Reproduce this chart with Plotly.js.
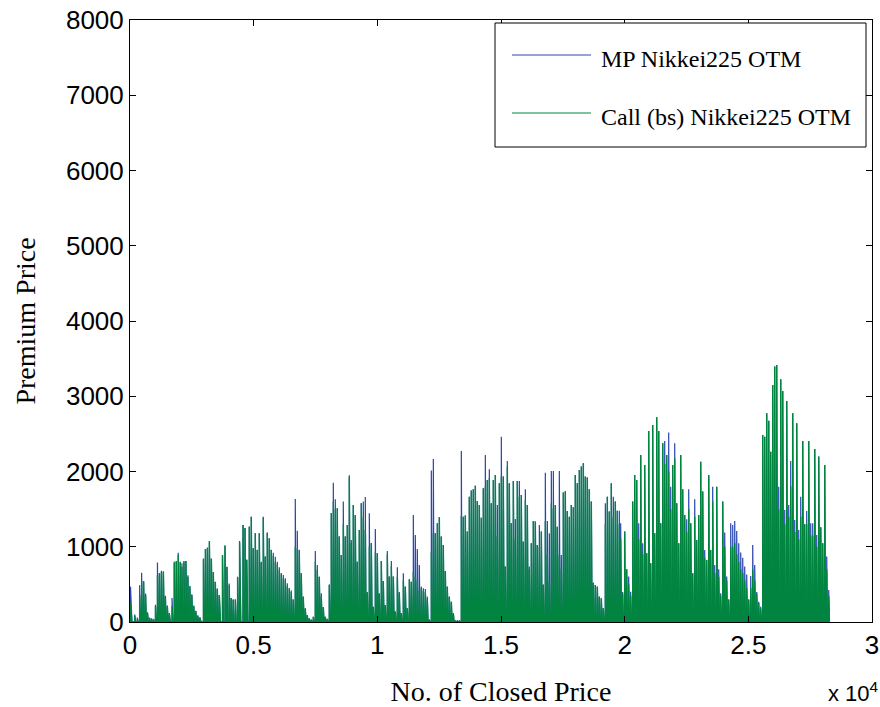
<!DOCTYPE html>
<html>
<head>
<meta charset="utf-8">
<script src="https://cdn.plot.ly/plotly-3.0.1.min.js"></script>
<style>html,body{margin:0;padding:0;background:#fff}#chart{width:880px;height:707px}</style>
</head>
<body>
<div id="chart"></div>
<script>
// Spike positions (observation index) and peak premiums of each option chain
const spikeX = [
20,190,296,390,470,550,630,710,790,870,950,1030,1110,1190,1270,1350,1430,1510,1590,1700,
1790,1870,1950,2030,2100,2180,2260,2340,2420,2500,2580,2660,2740,2820,2970,3050,3130,3210,3290,3370,
3450,3530,3610,3740,3840,3920,4010,4090,4170,4260,4350,4430,4570,4650,4720,
4823,4904,4985,5066,5147,5228,5308,5389,5470,5551,5632,5713,5794,5875,5955,6036,6117,6198,6279,6360,
6441,6521,6602,6683,6764,6845,6926,7007,7088,7168,7249,7330,7411,7492,7573,7654,7734,7815,7896,7977,
8058,8139,8220,8301,8381,8462,8543,8624,8705,8786,8867,8948,9028,9109,9190,9271,9352,9433,9514,9595,
9676,9757,
9838,9919,10000,10080,10161,10242,10323,10404,10485,10566,10647,10727,10808,10889,10970,11051,11132,11213,11294,11374,
11455,11536,11617,11698,11779,11860,11941,12021,12102,12183,12264,12345,12426,12507,12588,12668,12749,12830,12911,12992,
13073,13154,13235,13315,13396,13477,13558,13639,13720,13800,13881,13962,14043,14124,14205,14286,14367,14447,14528,14609,
14690,14771,14852,14933,15013,15094,15175,15256,15337,15418,15499,15579,15660,15741,15822,15903,15984,16065,16145,16226,
16307,16388,16469,16550,16631,16711,16792,16873,16954,17035,17116,17197,17277,17358,17439,17520,17601,17682,17763,17843,
17924,18005,18086,18167,18248,18329,18409,18490,18571,18652,18733,18814,18895,18975,19056,19137,19218,19299,19380,19460,
19541,19622,19703,19784,
19838,19919,20000,20081,20162,20243,20324,20405,20486,20567,20648,20729,20810,20890,20971,21052,21133,21214,21295,21376,
21457,21538,21618,21699,21780,21861,21942,22023,22104,22185,22265,22346,22427,22508,22589,22670,22751,22832,22912,22993,
23074,23155,23236,23317,23398,23478,23559,23640,23721,23802,23883,23964,24045,24125,24206,24287,24368,24449,24530,24611,
24692,24773,24853,24934,25015,25096,25177,25258,25339,25419,25500,25581,25662,25743,25824,25905,25986,26066,26147,26228,
26309,26390,26471,26552,26633,26713,26794,26875,26956,27037,27118,27199,27279,27360,27441,27522,27603,27684,27765,27846,
27927,28007,28088,28169,28250
];

const mpPeak = [
470,100,60,490,655,540,380,130,60,50,40,230,790,650,680,670,350,220,120,320,
780,800,920,790,780,800,810,620,480,370,220,150,90,60,830,970,990,1060,840,660,
530,440,360,880,1010,730,510,320,300,300,600,1075,1290,1250,830,
1270,1400,980,1180,960,1180,800,1400,870,1190,1110,960,921,868,800,726,650,624,580,514,
447,420,300,1634,1214,960,650,340,181,93,48,30,70,943,757,602,381,200,70,40,
500,1450,1850,1630,1510,1140,890,1600,1140,1290,1950,1090,1555,1422,800,1222,1577,1600,1660,400,
1445,1050,
204,1236,913,380,811,545,226,944,603,811,603,140,727,400,120,647,470,182,567,536,
1422,1157,971,758,470,450,440,337,30,2012,2167,1179,1312,1392,1135,1024,678,470,337,270,
115,20,20,20,2273,1400,1414,1201,1666,1746,1764,1812,1609,1555,1387,1777,2220,1888,2029,1577,
1888,1954,1555,1843,2463,1932,736,2140,1843,1312,1874,1369,1874,1874,1688,1068,1764,1555,736,1046,
1343,1334,1024,1290,1201,500,1985,1343,1179,2007,2007,1555,1267,2007,891,1720,1742,1476,1400,1555,
1524,1954,1843,2020,2065,2109,1932,1919,1764,1600,523,492,470,337,315,182,1577,1666,1467,1843,
1666,1600,1480,1480,
1312,400,1201,700,603,403,1600,1954,1888,1312,2220,1046,2087,913,2539,780,2618,1180,2720,2539,
1312,2375,2406,2220,2517,1799,2087,2375,1577,1046,2220,1763,1422,1365,1763,1312,647,1631,1090,1422,
2131,1733,957,824,1954,957,1799,758,1799,700,381,1600,1188,603,300,1312,1290,1343,1210,1046,
922,855,736,630,300,612,1024,758,400,270,204,2486,2463,2773,2676,2264,3150,3394,3416,1799,
3225,3070,1489,2937,1555,2140,2773,1356,2641,1223,1666,2406,1300,1476,2406,1312,1312,2300,1157,2198,
1258,1046,2087,869,425
];

const bsPeak = [
250,80,40,360,540,540,360,110,50,40,30,210,620,640,665,670,340,210,110,210,
800,810,890,800,735,810,810,600,470,360,210,145,80,60,845,970,980,1075,845,665,
535,445,360,890,1020,735,490,320,300,300,590,1060,1290,1250,824,
1267,1400,979,1178,957,1178,790,1390,870,1187,1112,957,880,800,770,690,640,580,560,480,
447,400,300,1000,980,957,646,336,181,93,48,30,70,802,690,600,340,200,70,40,
492,1444,1600,1500,1510,1134,890,1300,1134,1289,1930,1050,1555,1422,800,1222,1577,1400,1223,380,
1000,1046,
200,922,913,380,811,545,226,900,603,736,603,140,600,381,115,550,470,182,567,536,
670,600,560,420,450,420,400,300,30,935,1179,1179,1312,1392,1135,1024,678,470,337,270,
115,20,20,20,1409,1400,1414,1201,1666,1746,1764,1812,1609,1555,1387,1777,1800,1888,1910,1577,
1888,1954,1135,1843,1932,1932,736,2065,1843,1312,1874,1100,1874,1666,1688,1068,1620,1555,700,1046,
1343,1334,1024,1000,1201,492,1343,900,536,1577,1511,1555,1267,891,700,1720,1733,1476,1400,1555,
1524,1954,1843,2020,2065,2109,1932,1919,1764,1600,523,492,470,337,315,182,1300,1666,1467,1843,
1400,1600,1480,1300,
1100,380,1201,700,500,350,1600,1954,1888,1100,2220,900,2087,913,2539,780,2618,1180,2720,2539,
1312,2375,2100,2220,2000,1500,2087,2175,1577,1046,2220,1763,1422,1200,1500,1312,647,1400,1090,1422,
2131,1733,850,824,1954,957,1600,650,1799,600,350,1600,1000,550,300,1000,1000,1050,900,800,
700,650,550,450,300,450,700,550,380,250,180,2486,2463,2773,2676,2264,3150,3394,3416,1500,
3225,3070,1300,2937,1400,1800,2773,1200,2641,1100,1400,2406,1300,1300,2406,1150,1150,2300,1000,2198,
1258,1046,2087,700,350
];

const seriesNames = ['MP Nikkei225 OTM', 'Call (bs) Nikkei225 OTM'];
const xTickVals = [0, 5000, 10000, 15000, 20000, 25000, 30000];
const xTickText = ['0', '0.5', '1', '1.5', '2', '2.5', '3'];
const yTickVals = [0, 1000, 2000, 3000, 4000, 5000, 6000, 7000, 8000];

const BLUE = '#2a47b0';
const GREEN = '#00843f';

// Each chain rises at its start index to the peak premium and drops back toward zero.
function spikePath(peaks) {
  const X = [], Y = [];
  for (let i = 0; i < spikeX.length; i++) {
    const x = spikeX[i];
    const nx = i < spikeX.length - 1 ? spikeX[i + 1] : x + 80;
    X.push(x, x, x + 0.35 * (nx - x));
    Y.push(0, peaks[i], 0);
  }
  return {X, Y};
}

const mp = spikePath(mpPeak);
const bs = spikePath(bsPeak);

const L = 130, R = 872, T = 20, B = 622;
const W = R - L, H = B - T;
const px = v => (v - L) / W;
const py = v => (B - v) / H;

const traces = [
  {x: mp.X, y: mp.Y, type: 'scatter', mode: 'lines', name: seriesNames[0],
   line: {color: BLUE, width: 1.2}, showlegend: false, hoverinfo: 'skip'},
  {x: bs.X, y: bs.Y, type: 'scatter', mode: 'lines', name: seriesNames[1],
   line: {color: GREEN, width: 1.4}, showlegend: false, hoverinfo: 'skip'}
];

const axisFont = {family: 'Liberation Sans, Arial, sans-serif', size: 26, color: '#000'};
const titleFont = {family: 'Liberation Serif, Times New Roman, serif', size: 28, color: '#000'};
const legFont = {family: 'Liberation Serif, Times New Roman, serif', size: 24, color: '#000'};

const layout = {
  width: 880, height: 707,
  margin: {l: L, r: 880 - R, t: T, b: 707 - B, pad: 0},
  paper_bgcolor: '#fff', plot_bgcolor: '#fff',
  showlegend: false,
  xaxis: {
    range: [0, 30000], tickvals: xTickVals, ticktext: xTickText,
    ticks: 'inside', ticklen: 6, tickcolor: '#000', tickwidth: 1,
    showline: true, linecolor: '#000', linewidth: 1, mirror: 'ticks',
    showgrid: false, zeroline: false, tickfont: axisFont,
    title: {text: 'No. of Closed Price', font: titleFont, standoff: 22},
    automargin: false
  },
  yaxis: {
    range: [0, 8000], tickvals: yTickVals,
    ticks: 'inside', ticklen: 6, tickcolor: '#000', tickwidth: 1,
    showline: true, linecolor: '#000', linewidth: 1, mirror: 'ticks',
    showgrid: false, zeroline: false, tickfont: axisFont,
    title: {text: 'Premium Price', font: titleFont, standoff: 22},
    automargin: false
  },
  shapes: [
    {type: 'rect', xref: 'paper', yref: 'paper', x0: px(495), x1: px(866), y0: py(147), y1: py(23),
     line: {color: '#000', width: 1}, fillcolor: '#fff', layer: 'above'},
    {type: 'line', xref: 'paper', yref: 'paper', x0: px(512), x1: px(591), y0: py(55), y1: py(55),
     line: {color: BLUE, width: 1}, layer: 'above'},
    {type: 'line', xref: 'paper', yref: 'paper', x0: px(512), x1: px(591), y0: py(113), y1: py(113),
     line: {color: GREEN, width: 1}, layer: 'above'}
  ],
  annotations: [
    {xref: 'paper', yref: 'paper', x: px(599), y: py(59), xanchor: 'left', yanchor: 'middle',
     text: seriesNames[0], showarrow: false, font: legFont},
    {xref: 'paper', yref: 'paper', x: px(599), y: py(117), xanchor: 'left', yanchor: 'middle',
     text: seriesNames[1], showarrow: false, font: legFont},
    {xref: 'paper', yref: 'paper', x: px(826), y: py(692), xanchor: 'left', yanchor: 'middle',
     text: 'x 10<sup>4</sup>', showarrow: false, font: {family: 'Liberation Sans, Arial, sans-serif', size: 22, color: '#000'}}
  ]
};

Plotly.newPlot('chart', traces, layout, {displayModeBar: false, staticPlot: true});
</script>
</body>
</html>
